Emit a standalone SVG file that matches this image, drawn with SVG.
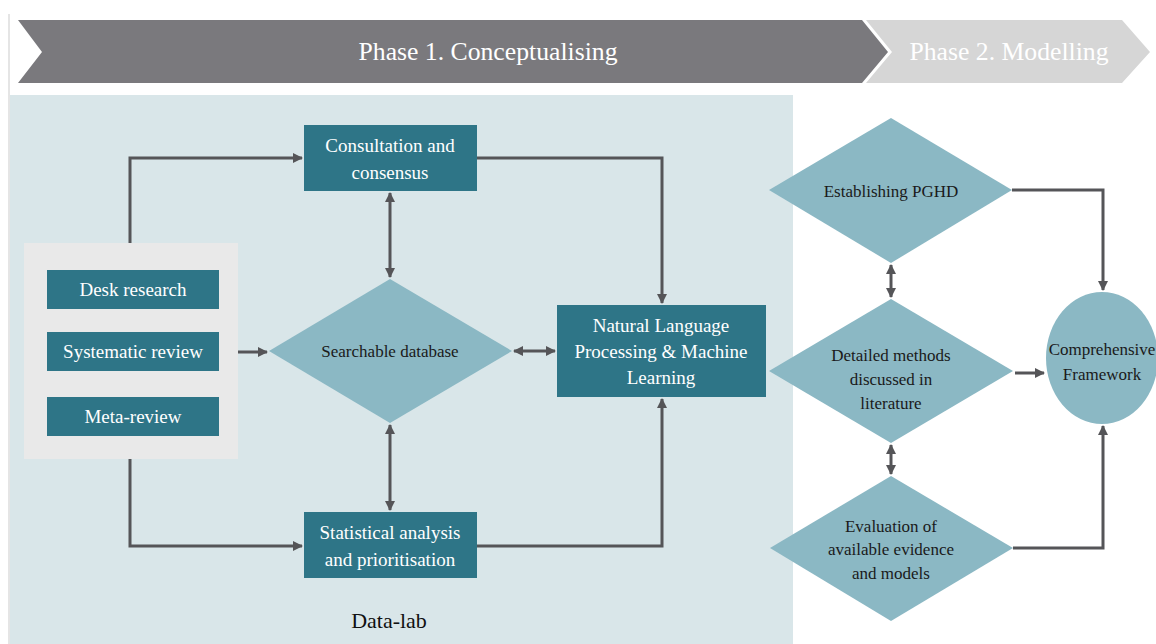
<svg xmlns="http://www.w3.org/2000/svg" width="1156" height="644" viewBox="0 0 1156 644">
<style>
.box{fill:#2e7587;}
.dia{fill:#8bb8c4;}
text{font-family:"Liberation Serif","Times New Roman","DejaVu Serif",serif;}
.wt{font-size:19px;fill:#ffffff;text-anchor:middle;}
.dt{font-size:17px;fill:#1a1a1a;text-anchor:middle;}
.ph{font-size:25.7px;fill:#ffffff;text-anchor:middle;}
.conn{fill:none;stroke:#555558;stroke-width:3;}
</style>
<defs>
<marker id="ah" viewBox="0 0 10 10" refX="9" refY="5" markerWidth="10" markerHeight="10" markerUnits="userSpaceOnUse" orient="auto-start-reverse">
<path d="M0,0 L10,5 L0,10 z" fill="#555558"/>
</marker>
</defs>
<rect x="0" y="0" width="1156" height="644" fill="#ffffff"/>
<line x1="9" y1="14" x2="9" y2="644" stroke="#dddddd" stroke-width="1.5"/>
<g id="banner">
<polygon points="18,20 862,20 888,52 862,83 18,83 42,52" fill="#7a797d"/>
<polygon points="866,20 1122,20 1150,52 1122,83 866,83 892,52" fill="#d6d6d6"/>
<text class="ph" x="488" y="60">Phase 1. Conceptualising</text>
<text class="ph" x="1009" y="60">Phase 2. Modelling</text>
</g>
<rect id="phase1-panel" x="10" y="95" width="783" height="549" fill="#d9e6e9"/>
<g id="sources">
<rect x="24" y="243" width="214" height="216" fill="#e9e9e9"/>
</g>
<g id="desk-research">
<rect class="box" x="47" y="270" width="172" height="39"/>
<text class="wt" x="133" y="296">Desk research</text>
</g>
<g id="systematic-review">
<rect class="box" x="47" y="332" width="172" height="39"/>
<text class="wt" x="133" y="358">Systematic review</text>
</g>
<g id="meta-review">
<rect class="box" x="47" y="397" width="172" height="39"/>
<text class="wt" x="133" y="423">Meta-review</text>
</g>
<g id="consultation">
<rect class="box" x="304" y="125" width="173" height="66"/>
<text class="wt" x="390" y="152">Consultation and</text>
<text class="wt" x="390" y="179">consensus</text>
</g>
<g id="searchable-database">
<polygon class="dia" points="390,279 512,351 390,423 269,351"/>
<text class="dt" x="390" y="357">Searchable database</text>
</g>
<g id="nlp">
<rect class="box" x="557" y="305" width="209" height="92"/>
<text class="wt" x="661" y="332">Natural Language</text>
<text class="wt" x="661" y="358">Processing &amp; Machine</text>
<text class="wt" x="661" y="384">Learning</text>
</g>
<g id="statistical">
<rect class="box" x="304" y="512" width="173" height="66"/>
<text class="wt" x="390" y="539">Statistical analysis</text>
<text class="wt" x="390" y="566">and prioritisation</text>
</g>
<text id="data-lab" x="389" y="628" font-size="22" fill="#111111" text-anchor="middle">Data-lab</text>
<g id="establishing">
<polygon class="dia" points="891,118 1012,190 891,263 769,190"/>
<text class="dt" x="891" y="197">Establishing PGHD</text>
</g>
<g id="detailed-methods">
<polygon class="dia" points="891,299 1013,371 891,443 769,371"/>
<text class="dt" x="891" y="361">Detailed methods</text>
<text class="dt" x="891" y="385">discussed in</text>
<text class="dt" x="891" y="409">literature</text>
</g>
<g id="evaluation">
<polygon class="dia" points="891,476 1013,548 891,621 770,548"/>
<text class="dt" x="891" y="532">Evaluation of</text>
<text class="dt" x="891" y="555">available evidence</text>
<text class="dt" x="891" y="579">and models</text>
</g>
<g id="framework">
<ellipse class="dia" cx="1102" cy="358" rx="56" ry="66"/>
<text class="dt" x="1102" y="355">Comprehensive</text>
<text class="dt" x="1102" y="380">Framework</text>
</g>
<g id="connectors">
<polyline class="conn" points="130,243 130,158 302,158" marker-end="url(#ah)"/>
<polyline class="conn" points="130,459 130,546 302,546" marker-end="url(#ah)"/>
<line class="conn" x1="238" y1="352" x2="267" y2="352" marker-end="url(#ah)"/>
<polyline class="conn" points="477,158 662,158 662,303" marker-end="url(#ah)"/>
<polyline class="conn" points="477,546 662,546 662,399" marker-end="url(#ah)"/>
<line class="conn" x1="390" y1="193" x2="390" y2="277" marker-start="url(#ah)" marker-end="url(#ah)"/>
<line class="conn" x1="390" y1="425" x2="390" y2="510" marker-start="url(#ah)" marker-end="url(#ah)"/>
<line class="conn" x1="514" y1="351" x2="555" y2="351" marker-start="url(#ah)" marker-end="url(#ah)"/>
<line class="conn" x1="891" y1="265" x2="891" y2="297" marker-start="url(#ah)" marker-end="url(#ah)"/>
<line class="conn" x1="891" y1="445" x2="891" y2="474" marker-start="url(#ah)" marker-end="url(#ah)"/>
<polyline class="conn" points="1012,190 1103,190 1103,290" marker-end="url(#ah)"/>
<line class="conn" x1="1015" y1="373" x2="1044" y2="373" marker-end="url(#ah)"/>
<polyline class="conn" points="1013,548 1103,548 1103,426" marker-end="url(#ah)"/>
</g>
</svg>
